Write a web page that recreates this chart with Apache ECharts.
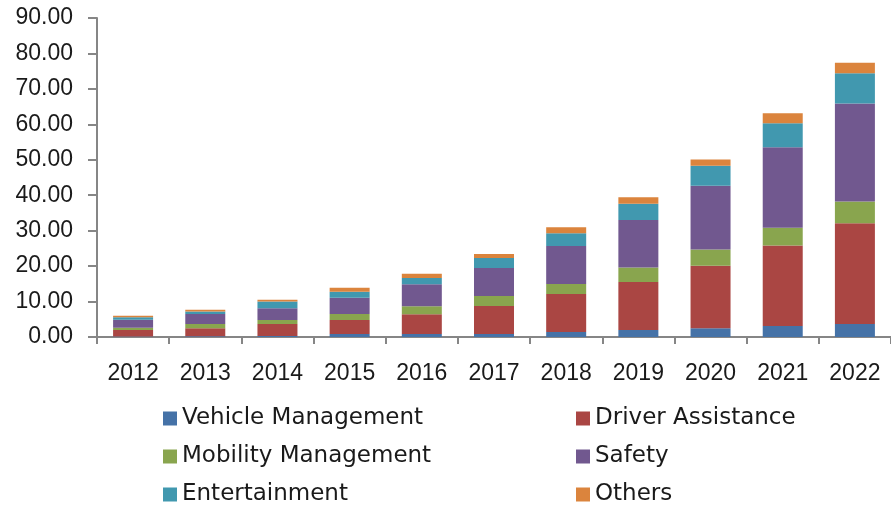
<!DOCTYPE html>
<html>
<head>
<meta charset="utf-8">
<script src="https://cdn.jsdelivr.net/npm/echarts@6/dist/echarts.min.js"></script>
<style>
  html, body { margin: 0; padding: 0; background: #fff; }
  #chart { width: 891px; height: 506px; }
</style>
</head>
<body>
<div id="chart"></div>
<script>
// 数据
var years = ["2012", "2013", "2014", "2015", "2016", "2017", "2018", "2019", "2020", "2021", "2022"];
var vehicleManagement = [0.15, 0.2, 0.3, 0.85, 0.85, 0.85, 1.4, 2.0, 2.5, 3.1, 3.7];
var driverAssistance = [1.85, 2.3, 3.4, 3.95, 5.6, 7.9, 10.7, 13.5, 17.6, 22.7, 28.4];
var mobilityManagement = [0.6, 1.2, 1.1, 1.7, 2.25, 2.85, 2.85, 4.1, 4.6, 5.0, 6.1];
var safety = [2.3, 2.8, 3.3, 4.6, 6.2, 7.9, 10.75, 13.4, 18.0, 22.7, 27.7];
var entertainment = [0.7, 0.7, 1.9, 1.7, 1.75, 2.8, 3.6, 4.6, 5.6, 6.8, 8.5];
var others = [0.4, 0.5, 0.5, 1.1, 1.2, 1.1, 1.65, 1.8, 1.8, 2.8, 3.0];

var axisColor = "#868686";
var textColor = "#1a1a1a";

function bar(name, data, color) {
  return {
    name: name,
    type: "bar",
    stack: "total",
    barWidth: 40,
    data: data,
    itemStyle: { color: color }
  };
}

var legendText = { fontFamily: "DejaVu Sans", fontSize: 23, color: textColor, lineHeight: 22 };

var myChart = echarts.init(document.getElementById("chart"));
myChart.setOption({
  animation: false,
  grid: { left: 97, right: -4, top: 18, bottom: 169 },
  legend: [
    {
      orient: "vertical",
      left: 163,
      top: 407,
      padding: 0,
      itemWidth: 14,
      itemHeight: 14,
      itemGap: 15,
      icon: "rect",
      selectedMode: false,
      textStyle: legendText,
      data: ["Vehicle Management", "Mobility Management", "Entertainment"]
    },
    {
      orient: "vertical",
      left: 576,
      top: 407,
      padding: 0,
      itemWidth: 14,
      itemHeight: 14,
      itemGap: 15,
      icon: "rect",
      selectedMode: false,
      textStyle: legendText,
      data: ["Driver Assistance", "Safety", "Others"]
    }
  ],
  xAxis: {
    type: "category",
    data: years,
    axisLine: { lineStyle: { color: axisColor, width: 2 } },
    axisTick: { show: true, length: 7, lineStyle: { color: axisColor, width: 2 } },
    axisLabel: { margin: 25, fontFamily: "Liberation Sans", fontSize: 23, color: textColor }
  },
  yAxis: {
    type: "value",
    min: 0,
    max: 90,
    interval: 10,
    splitLine: { show: false },
    axisLine: { show: true, lineStyle: { color: axisColor, width: 2 } },
    axisTick: { show: true, length: 9, lineStyle: { color: axisColor, width: 2 } },
    axisLabel: {
      margin: 24,
      fontFamily: "Liberation Sans",
      fontSize: 23,
      color: textColor,
      formatter: function (v) { return v.toFixed(2); }
    }
  },
  series: [
    bar("Vehicle Management", vehicleManagement, "#4572A7"),
    bar("Driver Assistance", driverAssistance, "#AA4643"),
    bar("Mobility Management", mobilityManagement, "#89A54E"),
    bar("Safety", safety, "#71588F"),
    bar("Entertainment", entertainment, "#4198AF"),
    bar("Others", others, "#DB843D")
  ]
});
</script>
</body>
</html>
